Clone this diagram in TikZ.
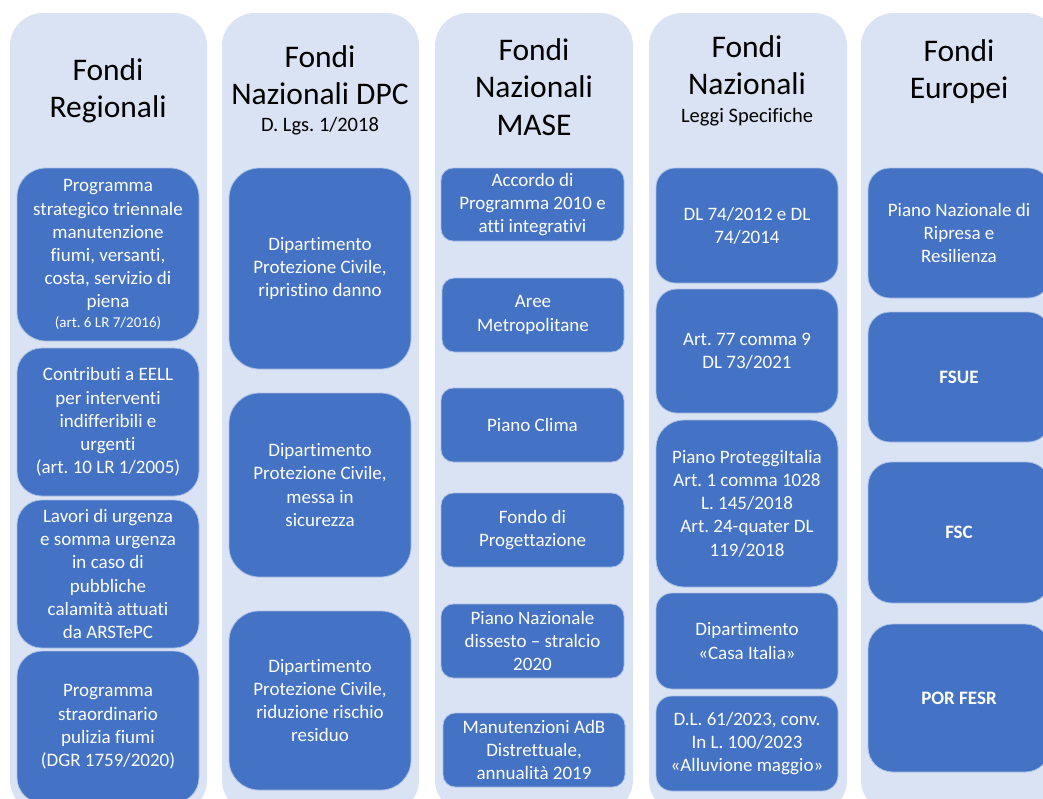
\documentclass[tikz,border=0pt]{standalone}
\usepackage{fontspec}
\setmainfont[Ligatures=NoCommon]{Carlito}
\frenchspacing
\definecolor{colbg}{HTML}{DAE3F3}
\definecolor{boxblue}{HTML}{4472C4}
\newcommand\titlefont{\fontsize{31.5}{37.5}\selectfont}
\newcommand\subfont{\fontsize{20.5}{24}\selectfont}
\newcommand\boxtextfont{\fontsize{19}{23.2}\selectfont}
\newcommand\smallnote{\fontsize{15}{18}\selectfont}
% name, x1, y1, x2, y2, text
\newcommand\fundbox[6]{%
  \pgfmathsetmacro\bw{#4-#2}\pgfmathsetmacro\bh{#5-#3}%
  \pgfmathsetmacro\br{0.1667*min(\bw,\bh)}%
  \node[fundstyle, minimum width=\bw pt, minimum height=\bh pt, rounded corners=\br pt]
    (#1) at ({(#2+#4)/2},{(#3+#5)/2}) {#6};}
\newcommand\colbox[3]{% name, x1, x2
  \pgfmathsetmacro\cw{#3-#2}%
  \node[colstyle, minimum width=\cw pt, minimum height=800pt]
    (#1) at ({(#2+#3)/2},413) {};}
\tikzset{
  fundstyle/.style={fill=boxblue, draw=white!55!boxblue, line width=0.8pt, text=white,
    align=center, font=\boxtextfont, inner sep=0pt},
  colstyle/.style={fill=colbg, draw=none, rounded corners=33pt, inner sep=0pt},
  titlestyle/.style={align=center, font=\titlefont, text=black, inner sep=0pt},
  substyle/.style={font=\subfont, text=black, inner sep=0pt, anchor=base}
}
\begin{document}
\begin{tikzpicture}[x=1pt,y=-1pt]
\useasboundingbox (0,0) rectangle (1043,798);
\clip (0,0) rectangle (1043,798);
\fill[white] (0,0) rectangle (1043,798);
% columns
\colbox{c1}{10}{207}
\colbox{c2}{222}{419}
\colbox{c3}{435}{633}
\colbox{c4}{649}{847}
\colbox{c5}{861}{1058}
% titles
\node[titlestyle] (t1) at (108,91) {Fondi\\Regionali};
\node[titlestyle] (t2) at (320,75) {Fondi\\Nazionali DPC};
\node[substyle] (s2) at (320,131) {D. Lgs. 1/2018};
\node[titlestyle] (t3) at (534,87) {Fondi\\Nazionali\\MASE};
\node[titlestyle] (t4) at (747,65) {Fondi\\Nazionali};
\node[substyle] (s4) at (747,122) {Leggi Specifiche};
\node[titlestyle] (t5) at (959,71.5) {Fondi\\Europei};
% column 1
\fundbox{r1}{17}{168}{199}{341}{Programma\\strategico triennale\\manutenzione\\fiumi, versanti,\\costa, servizio di\\piena\\[-4pt]{\smallnote (art. 6 LR 7/2016)}}
\fundbox{r2}{17}{348}{199}{496}{Contributi a EELL\\per interventi\\indifferibili e\\urgenti\\(art. 10 LR 1/2005)}
\fundbox{r3}{17}{500}{199}{648}{Lavori di urgenza\\e somma urgenza\\in caso di\\pubbliche\\calamità attuati\\da ARSTePC}
\fundbox{r4}{17}{651}{199}{803}{Programma\\straordinario\\pulizia fiumi\\(DGR 1759/2020)}
% column 2
\fundbox{d1}{229}{168}{411}{369}{Dipartimento\\Protezione Civile,\\ripristino danno}
\fundbox{d2}{229}{393}{411}{577}{Dipartimento\\Protezione Civile,\\messa in\\sicurezza}
\fundbox{d3}{229}{611}{411}{790}{Dipartimento\\Protezione Civile,\\riduzione rischio\\residuo}
% column 3
\fundbox{m1}{441}{168}{624}{241}{Accordo di\\Programma 2010 e\\atti integrativi}
\fundbox{m2}{442}{278}{624}{352}{Aree\\Metropolitane}
\fundbox{m3}{441}{388}{624}{462}{Piano Clima}
\fundbox{m4}{441}{493}{624}{567}{Fondo di\\Progettazione}
\fundbox{m5}{441}{604}{624}{678}{Piano Nazionale\\dissesto – stralcio\\2020}
\fundbox{m6}{443}{713}{625}{787}{Manutenzioni AdB\\Distrettuale,\\annualità 2019}
% column 4
\fundbox{l1}{656}{168}{838}{283}{DL 74/2012 e DL\\74/2014}
\fundbox{l2}{656}{289}{838}{413}{Art. 77 comma 9\\DL 73/2021}
\fundbox{l3}{656}{420}{838}{587}{Piano ProteggiItalia\\Art. 1 comma 1028\\L. 145/2018\\Art. 24-quater DL\\119/2018}
\fundbox{l4}{656}{593}{838}{689}{Dipartimento\\«Casa Italia»}
\fundbox{l5}{656}{696}{838}{791}{D.L. 61/2023, conv.\\In L. 100/2023\\«Alluvione maggio»}
% column 5
\fundbox{e1}{868}{168}{1050}{298}{Piano Nazionale di\\Ripresa e\\Resilienza}
\fundbox{e2}{868}{312}{1050}{442}{\bfseries FSUE}
\fundbox{e3}{868}{462}{1050}{603}{\bfseries FSC}
\fundbox{e4}{868}{624}{1050}{772}{\bfseries POR FESR}
\end{tikzpicture}
\end{document}
